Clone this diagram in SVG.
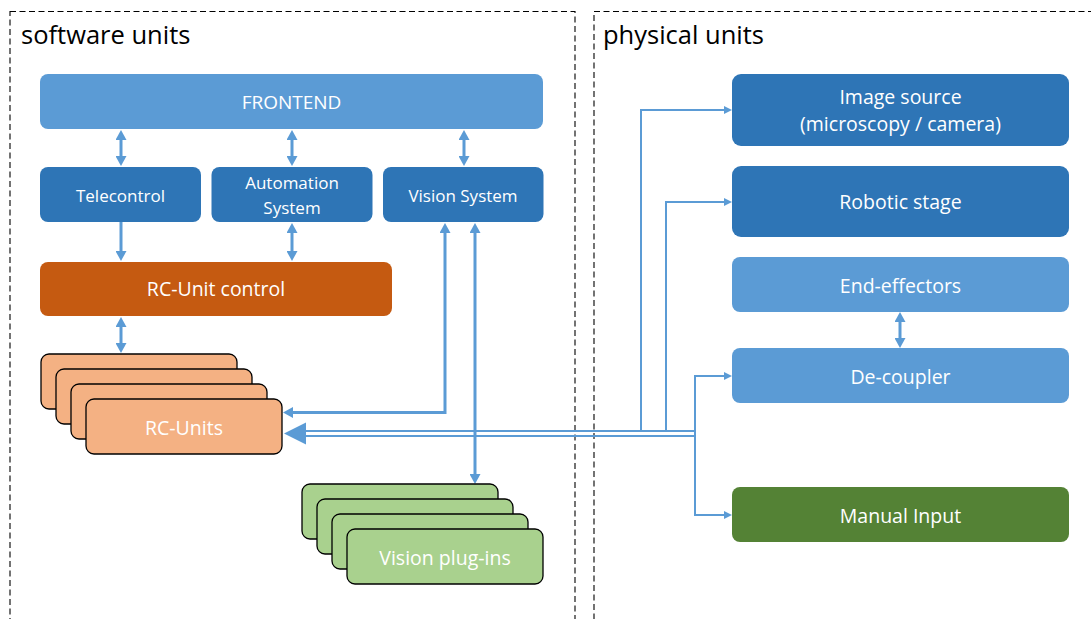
<svg xmlns="http://www.w3.org/2000/svg" width="1091" height="619" viewBox="0 0 1091 619">
  <defs>
    <style>
      text { font-family: "Open Sans", "Liberation Sans", sans-serif; text-anchor: middle; fill: #ffffff; }
      .title { fill: #000000; text-anchor: start; font-size: 25.5px; }
      .frame { fill: none; stroke: #000000; stroke-width: 1.1; stroke-dasharray: 6 3.5; }
      .mid { fill: #2E75B6; }
      .light { fill: #5B9BD5; }
      .ctrl { fill: #C55A11; }
      .green { fill: #548235; }
      .rc { fill: #F4B183; stroke: #000000; stroke-width: 1.3; }
      .plug { fill: #A9D18E; stroke: #000000; stroke-width: 1.3; }
      .wire { fill: none; stroke: #5B9BD5; stroke-width: 3; }
      .thin { fill: none; stroke: #5B9BD5; stroke-width: 2; }
      .dbl { marker-start: url(#head); marker-end: url(#head); }
      .one { marker-end: url(#head); }
      .sm { marker-end: url(#headSmall); }
    </style>
    <marker id="head" markerUnits="userSpaceOnUse" viewBox="0 0 10 11" markerWidth="10" markerHeight="11" refX="6" refY="5.5" orient="auto-start-reverse">
      <path d="M0,0 L10,5.5 L0,11 z" fill="#5B9BD5"/>
    </marker>
    <marker id="headSmall" markerUnits="userSpaceOnUse" viewBox="0 0 8 8" markerWidth="8" markerHeight="8" refX="5" refY="4" orient="auto">
      <path d="M0,0 L8,4 L0,8 z" fill="#5B9BD5"/>
    </marker>
  </defs>

  <!-- dashed areas -->
  <rect class="frame" x="10" y="11.5" width="565" height="620"/>
  <rect class="frame" x="594" y="11.5" width="520" height="620"/>
  <text class="title" x="21" y="43.5">software units</text>
  <text class="title" x="603" y="43.5">physical units</text>

  <!-- connectors -->
  <g id="connectors">
    <path class="wire dbl" d="M121 134 V162"/>
    <path class="wire dbl" d="M292 134 V162"/>
    <path class="wire dbl" d="M464 134 V162"/>
    <path class="wire one" d="M121 222 V257"/>
    <path class="wire dbl" d="M292 227 V257"/>
    <path class="wire dbl" d="M121 321 V349"/>
    <path class="wire dbl" d="M445 227 V412.5 H287"/>
    <path class="wire dbl" d="M475 227 V480"/>
    <path class="wire dbl" d="M900 316 V344"/>
    <!-- bus towards the RC-Units -->
    <path class="thin" d="M304 431 H696"/>
    <path class="thin" d="M304 436 H696"/>
    <polygon points="284,433.5 306,422.5 306,444.5" fill="#5B9BD5"/>
    <path class="thin sm" d="M641 432 V110 H729"/>
    <path class="thin sm" d="M666 432 V202 H729"/>
    <path class="thin sm" d="M695 437 V376 H729"/>
    <path class="thin sm" d="M695 430 V515 H729"/>
  </g>

  <!-- software units -->
  <g id="frontend">
    <rect class="light" x="40" y="74" width="503" height="55" rx="8"/>
    <text x="291.5" y="109" font-size="19">FRONTEND</text>
  </g>
  <g id="telecontrol">
    <rect class="mid" x="40" y="167" width="161" height="55" rx="8"/>
    <text x="120.5" y="201.5" font-size="17">Telecontrol</text>
  </g>
  <g id="automation-system">
    <rect class="mid" x="211.5" y="167" width="161" height="55" rx="8"/>
    <text x="292" y="189" font-size="17">Automation</text>
    <text x="292" y="213.5" font-size="17">System</text>
  </g>
  <g id="vision-system">
    <rect class="mid" x="383" y="167" width="160.5" height="55" rx="8"/>
    <text x="463" y="201.5" font-size="17">Vision System</text>
  </g>
  <g id="rc-unit-control">
    <rect class="ctrl" x="40" y="262" width="352" height="54" rx="8"/>
    <text x="216" y="296" font-size="19.5">RC-Unit control</text>
  </g>
  <g id="rc-units">
    <rect class="rc" x="41" y="354" width="196" height="55" rx="8"/>
    <rect class="rc" x="56" y="369" width="196" height="55" rx="8"/>
    <rect class="rc" x="71" y="384" width="196" height="55" rx="8"/>
    <rect class="rc" x="86" y="399" width="196" height="55" rx="8"/>
    <text x="184" y="435" font-size="19.5">RC-Units</text>
  </g>
  <g id="vision-plug-ins">
    <rect class="plug" x="302" y="484" width="196" height="55" rx="8"/>
    <rect class="plug" x="317" y="499" width="196" height="55" rx="8"/>
    <rect class="plug" x="332" y="514" width="196" height="55" rx="8"/>
    <rect class="plug" x="347" y="529" width="196" height="55" rx="8"/>
    <text x="445" y="565" font-size="19.5">Vision plug-ins</text>
  </g>

  <!-- physical units -->
  <g id="image-source">
    <rect class="mid" x="732" y="74" width="337" height="72" rx="9"/>
    <text x="900.5" y="104" font-size="19.5">Image source</text>
    <text x="900.5" y="131" font-size="19.5">(microscopy / camera)</text>
  </g>
  <g id="robotic-stage">
    <rect class="mid" x="732" y="166" width="337" height="71" rx="9"/>
    <text x="900.5" y="209" font-size="19.5">Robotic stage</text>
  </g>
  <g id="end-effectors">
    <rect class="light" x="732" y="257" width="337" height="55" rx="8"/>
    <text x="900.5" y="293" font-size="19.5">End-effectors</text>
  </g>
  <g id="de-coupler">
    <rect class="light" x="732" y="348" width="337" height="55" rx="8"/>
    <text x="900.5" y="384" font-size="19.5">De-coupler</text>
  </g>
  <g id="manual-input">
    <rect class="green" x="732" y="487" width="337" height="55" rx="8"/>
    <text x="900.5" y="522.5" font-size="19.5">Manual Input</text>
  </g>
</svg>
